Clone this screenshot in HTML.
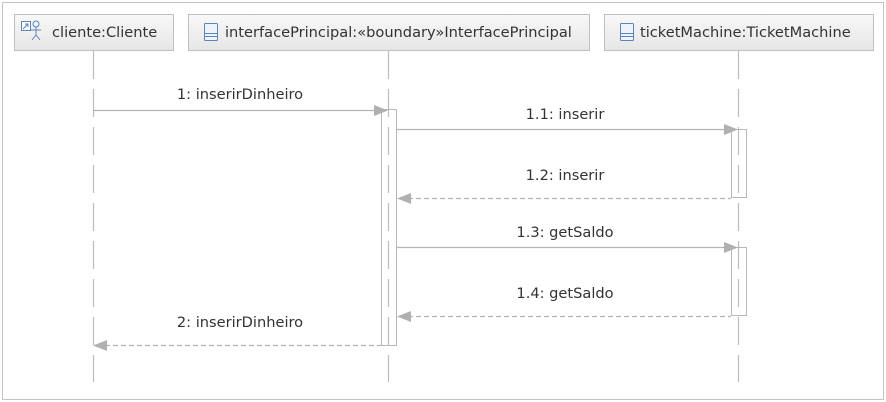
<!DOCTYPE html>
<html><head><meta charset="utf-8"><style>
html,body{margin:0;padding:0;background:#fff;}
svg{display:block;}
text{font-family:"DejaVu Sans","Liberation Sans",sans-serif;font-size:14.6px;fill:#333;}
</style></head><body>
<svg width="886" height="402" viewBox="0 0 886 402" xmlns="http://www.w3.org/2000/svg">
<defs>
<linearGradient id="g" x1="0" y1="0" x2="0" y2="1"><stop offset="0" stop-color="#f8f8f8"/><stop offset="1" stop-color="#e6e6e6"/></linearGradient>
</defs>
<rect x="2.5" y="2.5" width="881" height="397" fill="#fff" stroke="#c4c4c4"/>
<rect x="14.5" y="14.5" width="159" height="36" fill="url(#g)" stroke="#c0c0c0"/>
<rect x="188.5" y="14.5" width="401" height="36" fill="url(#g)" stroke="#c0c0c0"/>
<rect x="604.5" y="14.5" width="269" height="36" fill="url(#g)" stroke="#c0c0c0"/>
<g stroke="#5b84b8" fill="none" stroke-width="1">
<rect x="21.5" y="21.5" width="9" height="9" fill="#fff"/>
<path d="M23 29 L28 24 M25 24 H28 V27"/>
<circle cx="36" cy="24" r="3"/>
<path d="M36 27 V35 M31 30 H41 M36 35 L32 40 M36 35 L40 40"/>
</g>
<g stroke="#5b84b8" fill="#eef3fa">
<rect x="204.5" y="23.5" width="13" height="17" rx="1"/>
<path d="M205 33.5 H217 M205 36.5 H217" fill="none"/>
<rect x="620.5" y="23.5" width="13" height="17" rx="1"/>
<path d="M621 33.5 H633 M621 36.5 H633" fill="none"/>
</g>
<text x="52" y="37">cliente:Cliente</text>
<text x="225" y="37">interfacePrincipal:«boundary»InterfacePrincipal</text>
<text x="640" y="37">ticketMachine:TicketMachine</text>
<g stroke="#bdbdbd" stroke-width="1.2" stroke-dasharray="28,10">
<line x1="93.5" y1="51" x2="93.5" y2="382"/>
<line x1="388.5" y1="51" x2="388.5" y2="382"/>
<line x1="738.5" y1="51" x2="738.5" y2="382"/>
</g>
<g fill="#fff" fill-opacity="0" stroke="#b8b8b8">
<rect x="381.5" y="109.5" width="15" height="236"/>
<rect x="731.5" y="129.5" width="15" height="68"/>
<rect x="731.5" y="247.5" width="15" height="68"/>
</g>
<g stroke="#b4b4b4" stroke-width="1.2" fill="none">
<line x1="93" y1="110.5" x2="378" y2="110.5"/>
<line x1="397" y1="129.5" x2="728" y2="129.5"/>
<line x1="400" y1="198.5" x2="731" y2="198.5" stroke-dasharray="5,3"/>
<line x1="397" y1="247.5" x2="728" y2="247.5"/>
<line x1="400" y1="316.5" x2="731" y2="316.5" stroke-dasharray="5,3"/>
<line x1="97" y1="345.5" x2="381" y2="345.5" stroke-dasharray="5,3"/>
</g>
<g fill="#b0b0b0">
<polygon points="374,105 388,110.5 374,116"/>
<polygon points="724,124 738,129.5 724,135"/>
<polygon points="724,242 738,247.5 724,253"/>
<polygon points="397,198.5 411,193 411,204"/>
<polygon points="397,316.5 411,311 411,322"/>
<polygon points="93,345.5 107,340 107,351"/>
</g>
<g text-anchor="middle">
<text x="240" y="99">1: inserirDinheiro</text>
<text x="565" y="119">1.1: inserir</text>
<text x="565" y="180">1.2: inserir</text>
<text x="565" y="237">1.3: getSaldo</text>
<text x="565" y="298">1.4: getSaldo</text>
<text x="240" y="327">2: inserirDinheiro</text>
</g>
</svg>
</body></html>
